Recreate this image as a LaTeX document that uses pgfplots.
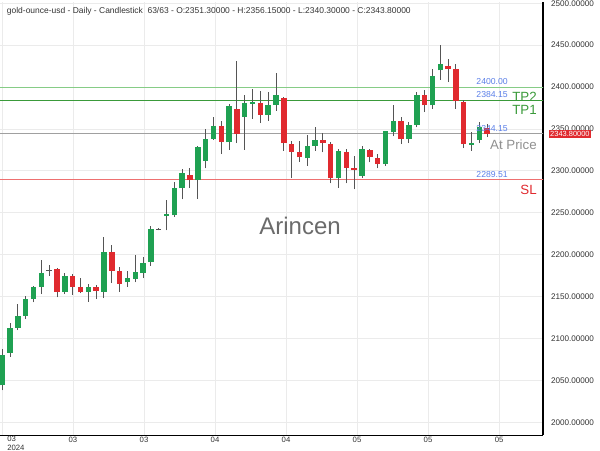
\documentclass[border=0pt]{standalone}
\usepackage{pgfplots}
\pgfplotsset{compat=1.18}
\usepackage{pgfplotstable}
\usepackage{fontspec}
\setmainfont{Liberation Sans}
\definecolor{cgreen}{HTML}{1FA152}
\definecolor{cred}{HTML}{E02A2F}
\definecolor{wick}{HTML}{555555}
\definecolor{gridc}{HTML}{EBEBEB}
\definecolor{tp2c}{HTML}{86CC86}
\definecolor{tp1c}{HTML}{3A9A3A}
\definecolor{slc}{HTML}{EE7070}
\definecolor{apc}{HTML}{A0A0A0}
\definecolor{lblue}{HTML}{5B7FE8}
\definecolor{txtc}{HTML}{333333}

% bullish candles
\pgfplotstableread{
x o h l c
0 2044 2087 2038 2080
1 2083 2119 2078 2113
2 2113 2141 2110 2127
3 2127 2151 2123 2147
4 2147 2163 2143 2162
5 2162 2194 2153 2178
8 2156 2178 2153 2174
11 2156 2165 2144 2161
13 2156 2221 2148 2203
16 2167 2180 2162 2172
17 2171 2199 2167 2179
18 2178 2197 2172 2190
19 2191 2234 2187 2231
21 2246 2265 2229 2249
22 2247 2287 2245 2279
23 2279 2302 2266 2297
25 2289 2330 2267 2329
26 2312 2350 2303 2338
27 2338 2364 2337 2354
29 2334 2380 2325 2377
31 2364 2391 2325 2381
32 2380 2398 2362 2382
34 2367 2394 2360 2379
35 2379 2417 2372 2390
39 2315 2343 2306 2330
40 2330 2352 2324 2337
43 2291 2326 2280 2324
46 2294 2330 2292 2326
49 2308 2348 2306 2347
50 2346 2379 2341 2360
52 2338 2358 2333 2355
53 2355 2394 2352 2391
55 2378 2422 2374 2413
56 2420 2450 2409 2427
60 2331 2346 2324 2333
61 2337 2358 2333 2352
}\upt

% bearish candles
\pgfplotstableread{
x o h l c
7 2183 2184 2149 2156
9 2174 2177 2152 2162
10 2162 2172 2154 2155
12 2161 2164 2147 2157
14 2203 2211 2166 2181
15 2181 2185 2156 2165
24 2295 2304 2280 2289
28 2354 2360 2320 2335
30 2374 2431 2333 2344
33 2381 2395 2357 2367
36 2387 2388 2324 2333
37 2332 2336 2291 2323
38 2323 2336 2311 2316
41 2337 2345 2322 2333
42 2332 2335 2285 2291
44 2322 2326 2285 2304
45 2303 2318 2278 2301.5
47 2325 2326 2310 2316
48 2315 2320 2303 2308
51 2360 2364 2332 2338
54 2391 2396 2370 2378
57 2425 2434 2406 2422
58 2421 2427 2374 2383
59 2382 2384 2327 2332
62 2351.3 2356.15 2340.3 2343.8
}\downt

% doji candles
\pgfplotstableread{
x o h l c
6 2181 2188 2175 2182.2
20 2230 2232 2229 2231.2
}\dojit

\begin{document}
\begin{tikzpicture}[x=1pt,y=1pt]
\path (0,0) rectangle (450,337.5);
\begin{pgfinterruptboundingbox}
\clip (0,0) rectangle (450,337.5);
\begin{axis}[
  at={(0,17.7)}, anchor=south west,
  scale only axis, width=407.25pt, height=324.75pt,
  xmin=-0.294, xmax=69.14, ymin=1984.6, ymax=2501.3,
  axis x line*=bottom, axis y line*=right,
  axis line style={black, line width=0.8pt},
  xtick={0.05,9.04,18.12,27.2,36.28,45.36,54.44,63.52},
  xticklabels={{},03,03,04,04,05,05,05},
  ytick={2000,2050,...,2500},
  grid=major, major grid style={gridc, line width=0.6pt},
  major tick length=0pt,
  /pgf/number format/assume math mode=true,
  yticklabel style={/pgf/number format/.cd, fixed, fixed zerofill, precision=5, 1000 sep={}, /tikz/.cd,
    anchor=west, inner sep=0pt, xshift=5.8pt, font=\fontsize{6.1}{7}\selectfont, text=txtc},
  xticklabel style={anchor=north, inner sep=0pt, yshift=-1.5pt, font=\fontsize{5.8}{6.8}\selectfont, text=txtc},
]
% level lines
\addplot[tp2c, line width=0.8pt, forget plot] coordinates {(-1,2400) (70,2400)};
\addplot[tp1c, line width=0.8pt, forget plot] coordinates {(-1,2384.15) (70,2384.15)};
\addplot[apc, line width=0.8pt, forget plot] coordinates {(-1,2344.15) (70,2344.15)};
\addplot[slc, line width=0.8pt, forget plot] coordinates {(-1,2289.51) (70,2289.51)};

% wicks
\addplot[draw=none, mark=none, forget plot, error bars/.cd, y dir=plus, y explicit, error mark=none,
  error bar style={draw=wick, line width=0.75pt}]
  table[x=x, y=l, y error expr={\thisrow{h}-\thisrow{l}}] {\upt};
\addplot[draw=none, mark=none, forget plot, error bars/.cd, y dir=plus, y explicit, error mark=none,
  error bar style={draw=wick, line width=0.75pt}]
  table[x=x, y=l, y error expr={\thisrow{h}-\thisrow{l}}] {\downt};
\addplot[draw=none, mark=none, forget plot, error bars/.cd, y dir=plus, y explicit, error mark=none,
  error bar style={draw=wick, line width=0.75pt}]
  table[x=x, y=l, y error expr={\thisrow{h}-\thisrow{l}}] {\dojit};

% bodies
\addplot[draw=none, mark=none, forget plot, error bars/.cd, y dir=plus, y explicit, error mark=none,
  error bar style={draw=cgreen, line width=4.1pt}]
  table[x=x, y expr={min(\thisrow{o},\thisrow{c})}, y error expr={abs(\thisrow{c}-\thisrow{o})}] {\upt};
\addplot[draw=none, mark=none, forget plot, error bars/.cd, y dir=plus, y explicit, error mark=none,
  error bar style={draw=cred, line width=4.1pt}]
  table[x=x, y expr={min(\thisrow{o},\thisrow{c})}, y error expr={abs(\thisrow{c}-\thisrow{o})}] {\downt};
\addplot[draw=none, mark=none, forget plot, error bars/.cd, y dir=plus, y explicit, error mark=none,
  error bar style={draw=wick, line width=4.1pt}]
  table[x=x, y expr={min(\thisrow{o},\thisrow{c})}, y error expr={abs(\thisrow{c}-\thisrow{o})}] {\dojit};

% level labels
\node[anchor=south east, inner sep=0pt, yshift=1.7pt, font=\fontsize{6.5}{7}\selectfont, text=lblue] at (axis cs:64.67,2400) {2400.00};
\node[anchor=south east, inner sep=0pt, yshift=1.7pt, font=\fontsize{6.5}{7}\selectfont, text=lblue] at (axis cs:64.67,2384.15) {2384.15};
\node[anchor=south east, inner sep=0pt, yshift=1.7pt, font=\fontsize{6.5}{7}\selectfont, text=lblue] at (axis cs:64.67,2344.15) {2344.15};
\node[anchor=south east, inner sep=0pt, yshift=1.7pt, font=\fontsize{6.5}{7}\selectfont, text=lblue] at (axis cs:64.67,2289.51) {2289.51};
\node[anchor=north east, inner sep=0pt, yshift=-3.7pt, font=\fontsize{10}{11}\selectfont, text=tp1c] at (axis cs:68.38,2400) {TP2};
\node[anchor=north east, inner sep=0pt, yshift=-3.7pt, font=\fontsize{10}{11}\selectfont, text=tp1c] at (axis cs:68.38,2384.15) {TP1};
\node[anchor=north east, inner sep=0pt, yshift=-4pt, font=\fontsize{10}{11}\selectfont, text=apc!90!black] at (axis cs:68.38,2344.15) {At Price};
\node[anchor=north east, inner sep=0pt, yshift=-4pt, font=\fontsize{10}{11}\selectfont, text=cred] at (axis cs:68.38,2289.51) {SL};

% watermark
\node[font=\fontsize{18}{20}\selectfont, text=black!58] at (axis cs:38.07,2234) {Arincen};

\coordinate (pricept) at (axis cs:69.14,2343.8);
\end{axis}
\node[anchor=west, fill=cred, text=white, inner xsep=1.2pt, inner ysep=0pt, minimum height=6.2pt,
  font=\fontsize{5.6}{6.2}\selectfont, xshift=4pt] at (pricept) {2343.80000};
\node[anchor=base west, inner sep=0pt, font=\fontsize{6.35}{7}\selectfont, text=txtc] at (5,327.5)
  {gold-ounce-usd - Daily - Candlestick\hspace{3.5pt}63/63 - O:2351.30000 - H:2356.15000 - L:2340.30000 - C:2343.80000};
\node[anchor=north west, align=left, inner sep=0pt, font=\fontsize{5.8}{6.6}\selectfont, text=txtc] at (5.25,10.8) {03\\2024};
\end{pgfinterruptboundingbox}
\end{tikzpicture}
\end{document}
